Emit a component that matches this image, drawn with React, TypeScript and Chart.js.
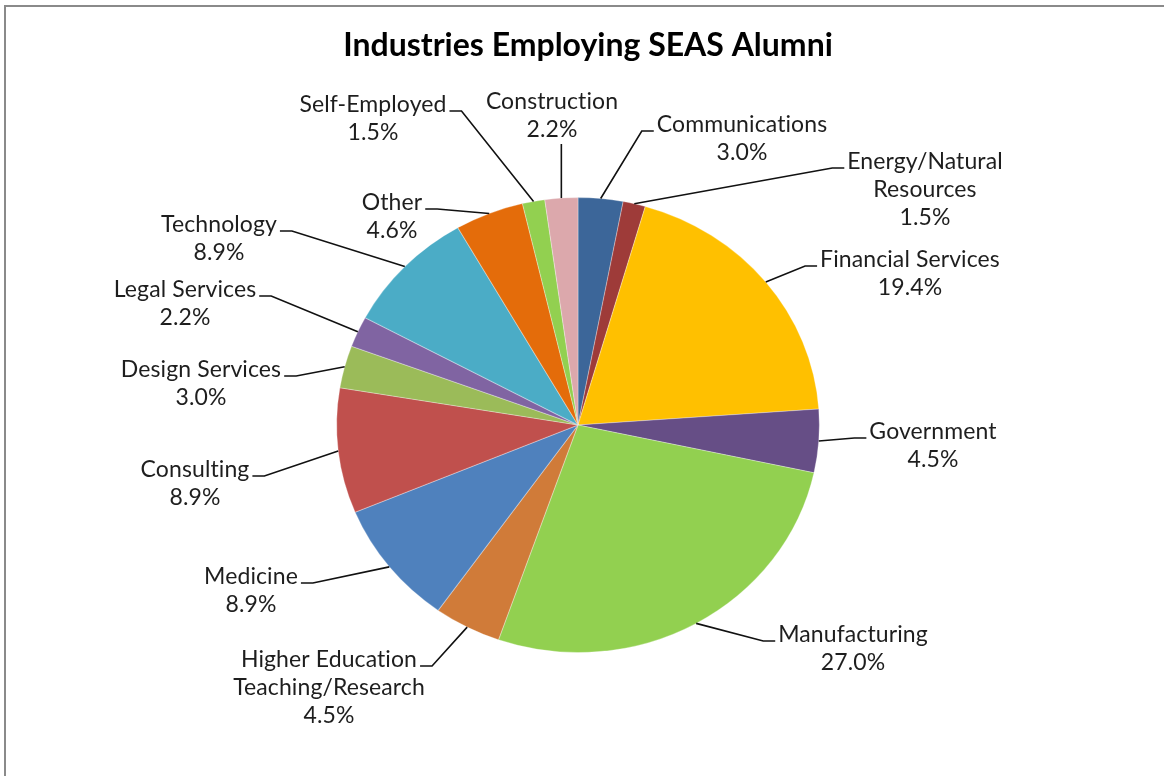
import React, { useEffect, useRef } from "react";
import { Chart, registerables } from "chart.js";

Chart.register(...registerables);

// ---- data ----
const TITLE = "Industries Employing SEAS Alumni";
const categories = [
  "Communications",
  "Energy/Natural Resources",
  "Financial Services",
  "Government",
  "Manufacturing",
  "Higher Education Teaching/Research",
  "Medicine",
  "Consulting",
  "Design Services",
  "Legal Services",
  "Technology",
  "Other",
  "Self-Employed",
  "Construction",
];
const labelLines = [
  ["Communications"],
  ["Energy/Natural", "Resources"],
  ["Financial Services"],
  ["Government"],
  ["Manufacturing"],
  ["Higher Education", "Teaching/Research"],
  ["Medicine"],
  ["Consulting"],
  ["Design Services"],
  ["Legal Services"],
  ["Technology"],
  ["Other"],
  ["Self-Employed"],
  ["Construction"],
];
const shares = [3.0, 1.5, 19.4, 4.5, 27.0, 4.5, 8.9, 8.9, 3.0, 2.2, 8.9, 4.6, 1.5, 2.2];

// ---- styles ----
const colors = [
  "#3C6699",
  "#9E3B39",
  "#FFC000",
  "#664E86",
  "#92D050",
  "#D07B39",
  "#4F81BD",
  "#C0504D",
  "#9BBB59",
  "#8064A2",
  "#4BACC6",
  "#E46C0A",
  "#92D050",
  "#DCA8AC",
];

// label placement relative to the pie centre (dx, dy of first line), and the side the leader attaches to
const labelLayout: { dx: number; dy: number; side: "L" | "R" | "B" }[] = [
  { dx: 164, dy: -300, side: "L" },
  { dx: 347, dy: -263, side: "L" },
  { dx: 332, dy: -165, side: "L" },
  { dx: 355, dy: 7, side: "L" },
  { dx: 275, dy: 210, side: "L" },
  { dx: -249, dy: 235, side: "R" },
  { dx: -327, dy: 152, side: "R" },
  { dx: -383, dy: 45, side: "R" },
  { dx: -377, dy: -55, side: "R" },
  { dx: -393, dy: -135, side: "R" },
  { dx: -359, dy: -200, side: "R" },
  { dx: -186, dy: -222, side: "R" },
  { dx: -205, dy: -320, side: "R" },
  { dx: -26, dy: -323, side: "B" },
];

const SX = 1.061; // horizontal stretch of the pie (ellipse)
const FONT = "Lato, 'Open Sans', sans-serif";
const LABEL_SIZE = 23;
const TITLE_SIZE = 32;
const LINE_H = 28;

const ellipsePlugin = {
  id: "ellipse",
  beforeDatasetsDraw(chart: any) {
    const el = chart.getDatasetMeta(0).data[0];
    if (!el) return;
    const ctx = chart.ctx;
    ctx.save();
    ctx.translate(el.x, el.y);
    ctx.scale(SX, 1);
    ctx.translate(-el.x, -el.y);
  },
  afterDatasetsDraw(chart: any) {
    chart.ctx.restore();
  },
};

const labelPlugin = {
  id: "outsideLabels",
  afterDraw(chart: any) {
    const ctx = chart.ctx;
    const meta = chart.getDatasetMeta(0);
    const first = meta.data[0];
    if (!first) return;
    const cx = first.x;
    const cy = first.y;

    // title
    ctx.save();
    ctx.fillStyle = "#000";
    ctx.font = `bold ${TITLE_SIZE}px ${FONT}`;
    ctx.textAlign = "center";
    ctx.textBaseline = "alphabetic";
    ctx.fillText(TITLE, cx + 10, 56);
    ctx.restore();

    meta.data.forEach((arc: any, i: number) => {
      const p = arc.getProps(["x", "y", "startAngle", "endAngle", "outerRadius"], true);
      const mid = (p.startAngle + p.endAngle) / 2;
      const px = p.x + Math.cos(mid) * p.outerRadius * SX;
      const py = p.y + Math.sin(mid) * p.outerRadius;

      const lay = labelLayout[i];
      const lx = cx + lay.dx;
      const ly = cy + lay.dy;
      const lines = [...labelLines[i], `${shares[i].toFixed(1)}%`];

      ctx.save();
      ctx.font = `${LABEL_SIZE}px ${FONT}`;
      try {
        (ctx as any).letterSpacing = "0.1px";
      } catch (e) {}
      ctx.fillStyle = "#1e1e1e";
      ctx.textAlign = "center";
      ctx.textBaseline = "middle";
      lines.forEach((t, k) => ctx.fillText(t, lx, ly + k * LINE_H));
      const w0 = ctx.measureText(lines[0]).width;

      ctx.strokeStyle = "#111";
      ctx.lineWidth = 1.6;
      ctx.beginPath();
      if (lay.side === "B") {
        const sy = ly + (lines.length - 1) * LINE_H + 14;
        ctx.moveTo(px, sy);
        ctx.lineTo(px, py);
      } else {
        const sgn = lay.side === "L" ? -1 : 1;
        const ax = lx + sgn * (w0 / 2 + 3);
        const ay = ly + 6;
        ctx.moveTo(ax, ay);
        ctx.lineTo(ax + sgn * 12, ay);
        ctx.lineTo(px, py);
      }
      ctx.stroke();
      ctx.restore();
    });
  },
};

export default function App() {
  const ref = useRef<HTMLCanvasElement | null>(null);

  useEffect(() => {
    if (!ref.current) return;
    const chart = new Chart(ref.current, {
      type: "pie",
      data: {
        labels: categories,
        datasets: [
          {
            data: shares,
            backgroundColor: colors,
            borderColor: "rgba(255,255,255,0.3)",
            borderWidth: 1,
            hoverOffset: 0,
          },
        ],
      },
      options: {
        animation: false,
        responsive: false,
        maintainAspectRatio: false,
        events: [],
        layout: { padding: { top: 197, bottom: 123, left: 300, right: 308 } },
        plugins: {
          legend: { display: false },
          tooltip: { enabled: false },
          title: { display: false },
        },
      },
      plugins: [ellipsePlugin, labelPlugin],
    });
    return () => chart.destroy();
  }, []);

  return (
    <div
      style={{
        position: "fixed",
        left: 0,
        top: 0,
        width: 1164,
        height: 776,
        overflow: "hidden",
        background: "#fff",
      }}
    >
      <div
        style={{
          position: "absolute",
          left: 4,
          top: 5,
          width: 1400,
          height: 1000,
          borderLeft: "2px solid #8a8a8a",
          borderTop: "2px solid #8a8a8a",
        }}
      />
      <canvas
        ref={ref}
        width={1164}
        height={776}
        style={{ position: "absolute", left: 0, top: 0, width: 1164, height: 776 }}
      />
    </div>
  );
}
